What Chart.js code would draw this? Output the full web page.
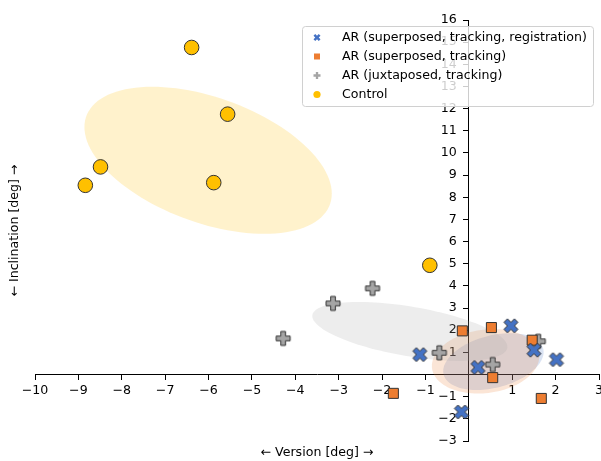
<!DOCTYPE html>
<html>
<head>
<meta charset="utf-8">
<script src="https://cdn.jsdelivr.net/npm/chart.js@4.4.1/dist/chart.umd.min.js"></script>
<style>
  body { margin: 0; background: #fff; }
  #wrap { width: 601px; height: 461px; }
</style>
</head>
<body>
<div id="wrap"><canvas id="myChart" width="601" height="461"></canvas></div>
<script>
// deviation per participant (deg)
let groupLabels = [
  "AR (superposed, tracking, registration)",
  "AR (superposed, tracking)",
  "AR (juxtaposed, tracking)",
  "Control"
];
let regX = [-1.13, 0.21, 0.97, 1.50, 2.02, -0.17];
let regY = [0.90, 0.32, 2.20, 1.10, 0.67, -1.69];
let supX = [-0.15, 0.52, 1.46, 0.55, -1.74, 1.67];
let supY = [1.97, 2.12, 1.55, -0.14, -0.85, -1.08];
let juxX = [-4.28, -3.13, -2.22, -0.68, 0.55, 1.60];
let juxY = [1.63, 3.21, 3.89, 0.98, 0.45, 1.50];
let ctrlX = [-6.39, -5.56, -8.49, -8.84, -5.88, -0.90];
let ctrlY = [14.76, 11.75, 9.37, 8.54, 8.66, 4.93];

// axis range and tick step
let xRange = [-10, 3];
let yRange = [-3, 16];
let tickStep = 1;

let colors = ['#4472C4', '#ED7D31', '#A5A5A5', '#FFC000'];
let edgeColor = '#333333';
let fontFamily = "'DejaVu Sans', sans-serif";
let fontSize = 12.6;

// matplotlib filled marker outlines ('X' and 'P'), unit size
let xShape = [[-1, -2], [0, -1], [1, -2], [2, -1], [1, 0], [2, 1], [1, 2], [0, 1], [-1, 2], [-2, 1], [-1, 0], [-2, -1]].map(p => [p[0] / 4, p[1] / 4]);
let plusShape = [[-1, -3], [1, -3], [1, -1], [3, -1], [3, 1], [1, 1], [1, 3], [-1, 3], [-1, 1], [-3, 1], [-3, -1], [-1, -1]].map(p => [p[0] / 6, p[1] / 6]);

function shapePath(g, shape, cx, cy, size) {
  g.beginPath();
  shape.forEach((p, i) => {
    let px = cx + p[0] * size, py = cy - p[1] * size;
    if (i === 0) g.moveTo(px, py); else g.lineTo(px, py);
  });
  g.closePath();
}

function makeMarker(shape, size, fill) {
  let c = document.createElement('canvas');
  c.width = c.height = size + 4;
  let g = c.getContext('2d');
  shapePath(g, shape, c.width / 2, c.height / 2, size);
  g.fillStyle = fill;
  g.fill();
  g.lineWidth = 1;
  g.strokeStyle = edgeColor;
  g.stroke();
  return c;
}

function toPoints(xs, ys) {
  return xs.map((x, i) => ({x: x, y: ys[i]}));
}

let groups = [[regX, regY], [supX, supY], [juxX, juxY], [ctrlX, ctrlY]];

// 1 std covariance ellipse of every group
function drawEllipse(chart, xs, ys, color) {
  let n = xs.length;
  let mx = xs.reduce((a, b) => a + b, 0) / n;
  let my = ys.reduce((a, b) => a + b, 0) / n;
  let sxx = 0, syy = 0, sxy = 0;
  for (let i = 0; i < n; i++) {
    sxx += (xs[i] - mx) * (xs[i] - mx);
    syy += (ys[i] - my) * (ys[i] - my);
    sxy += (xs[i] - mx) * (ys[i] - my);
  }
  sxx /= n - 1; syy /= n - 1; sxy /= n - 1;
  // cholesky of the covariance
  let l11 = Math.sqrt(sxx);
  let l21 = sxy / l11;
  let l22 = Math.sqrt(Math.max(syy - l21 * l21, 0));
  let sx = chart.scales.x, sy = chart.scales.y;
  let g = chart.ctx;
  g.beginPath();
  for (let k = 0; k <= 120; k++) {
    let t = k / 120 * Math.PI * 2;
    let u = Math.cos(t), v = Math.sin(t);
    let px = sx.getPixelForValue(mx + l11 * u);
    let py = sy.getPixelForValue(my + l21 * u + l22 * v);
    if (k === 0) g.moveTo(px, py); else g.lineTo(px, py);
  }
  g.closePath();
  g.globalAlpha = 0.2;
  g.fillStyle = color;
  g.fill();
  g.globalAlpha = 1;
}

let ellipsePlugin = {
  id: 'ellipses',
  beforeDatasetsDraw(chart) {
    let a = chart.chartArea;
    chart.ctx.save();
    chart.ctx.beginPath();
    chart.ctx.rect(a.left, a.top, a.right - a.left, a.bottom - a.top);
    chart.ctx.clip();
    groups.forEach((gr, i) => drawEllipse(chart, gr[0], gr[1], colors[i]));
    chart.ctx.restore();
  }
};

// legend box and axis titles
let overlayPlugin = {
  id: 'overlay',
  afterDraw(chart) {
    let g = chart.ctx;
    let a = chart.chartArea;
    g.save();
    g.font = fontSize + 'px ' + fontFamily;
    g.fillStyle = '#000';
    g.textAlign = 'center';
    g.textBaseline = 'middle';
    g.fillText('\u2190 Version [deg] \u2192', (a.left + a.right) / 2, 453);
    g.translate(15, (a.top + a.bottom) / 2);
    g.rotate(-Math.PI / 2);
    g.fillText('\u2190 Inclination [deg] \u2192', 0, 0);
    g.restore();

    let bx = 302, by = 26, bw = 291, bh = 80;
    g.save();
    g.beginPath();
    g.roundRect(bx + 0.5, by + 0.5, bw, bh, 3);
    g.fillStyle = 'rgba(255,255,255,0.8)';
    g.fill();
    g.strokeStyle = '#d0d0d0';
    g.lineWidth = 1;
    g.stroke();
    g.font = fontSize + 'px ' + fontFamily;
    g.textBaseline = 'middle';
    groupLabels.forEach((label, i) => {
      let y = by + 11.5 + i * 19;
      let mx = bx + 15;
      g.fillStyle = colors[i];
      if (i === 0) {
        shapePath(g, xShape, mx, y, 7); g.fill();
      } else if (i === 1) {
        g.fillRect(mx - 3, y - 3, 6, 6);
      } else if (i === 2) {
        shapePath(g, plusShape, mx, y, 7); g.fill();
      } else {
        g.beginPath(); g.arc(mx, y, 3.6, 0, Math.PI * 2); g.fill();
      }
      g.fillStyle = '#000';
      g.fillText(label, bx + 40, y);
    });
    g.restore();
  }
};

function tickText(v) {
  if (v === 0) return '';
  return v < 0 ? '\u2212' + (-v) : '' + v;
}

// y labels sit right on the spine for a value-positioned axis, so pad them with spaces
function yTickText(v) {
  let t = tickText(v);
  return t === '' ? '' : t + '   ';
}

function axisOptions(range, pos, labelFn) {
  return {
    type: 'linear',
    min: range[0],
    max: range[1],
    position: pos,
    ticks: {
      stepSize: tickStep,
      autoSkip: false,
      color: '#000',
      padding: 4,
      font: {family: fontFamily, size: fontSize},
      callback: labelFn
    },
    grid: {drawOnChartArea: false, tickLength: 5, color: '#000', lineWidth: 1},
    border: {display: true, color: '#000', width: 1},
    afterFit: function (s) { s.paddingLeft = 0; s.paddingRight = 0; s.paddingTop = 0; s.paddingBottom = 0; }
  };
}

let markerStyles = [
  makeMarker(xShape, 14, colors[0]),
  'rect',
  makeMarker(plusShape, 14, colors[2]),
  'circle'
];
let markerRadius = [7, 7.1, 7, 7.3];

let datasets = groups.map((gr, i) => ({
  label: groupLabels[i],
  data: toPoints(gr[0], gr[1]),
  pointStyle: markerStyles[i],
  pointRadius: markerRadius[i],
  backgroundColor: colors[i],
  borderColor: edgeColor,
  borderWidth: 1,
  showLine: false
}));

let ctx = document.getElementById('myChart').getContext('2d');
let myChart = new Chart(ctx, {
  type: 'scatter',
  data: {datasets: datasets},
  options: {
    responsive: false,
    animation: false,
    devicePixelRatio: 1,
    layout: {autoPadding: false, padding: {left: 35, right: 2, top: 20, bottom: 20}},
    plugins: {legend: {display: false}, tooltip: {enabled: false}},
    scales: {
      x: axisOptions(xRange, {y: 0}, tickText),
      y: axisOptions(yRange, {x: 0}, yTickText)
    }
  },
  plugins: [ellipsePlugin, overlayPlugin]
});
</script>
</body>
</html>
